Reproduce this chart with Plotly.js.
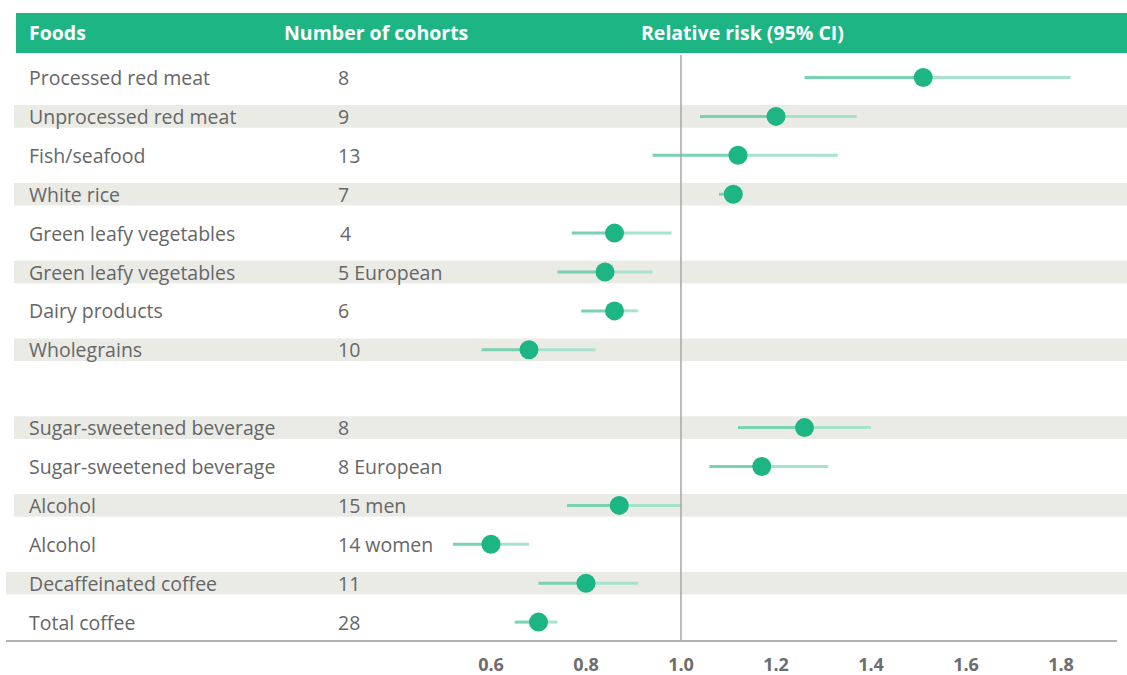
<!DOCTYPE html>
<html><head><meta charset="utf-8">
<script src="https://cdn.plot.ly/plotly-3.0.1.min.js"></script>
<style>html,body{margin:0;padding:0;background:#fff}#chart{width:1127px;height:675px}</style>
</head><body><div id="chart"></div>
<script>
// ---- data ----
const foods = ["Processed red meat","Unprocessed red meat","Fish/seafood","White rice","Green leafy vegetables","Green leafy vegetables","Dairy products","Wholegrains","Sugar-sweetened beverage","Sugar-sweetened beverage","Alcohol","Alcohol","Decaffeinated coffee","Total coffee"];
const cohorts = ["8","9","13","7","4","5 European","6","10","8","8 European","15 men","14 women","11","28"];
const rr    = [1.51,1.20,1.12,1.11,0.86,0.84,0.86,0.68,1.26,1.17,0.87,0.60,0.80,0.70];
const ciLow = [1.26,1.04,0.94,1.08,0.77,0.74,0.79,0.58,1.12,1.06,0.76,0.52,0.70,0.65];
const ciHigh= [1.82,1.37,1.33,1.13,0.98,0.94,0.91,0.82,1.40,1.31,1.00,0.68,0.91,0.74];
const rowIndex = [0,1,2,3,4,5,6,7,9,10,11,12,13,14];
const tickVals = [0.6,0.8,1.0,1.2,1.4,1.6,1.8];
const tickText = ["0.6","0.8","1.0","1.2","1.4","1.6","1.8"];

const W = 1127, H = 675, MB = 34, PH = H - MB;
const green = "#1db584", textGray = "#666666", band = "#ebebe6";
const FONT = "Open Sans, Noto Sans, sans-serif";

// left and right halves of CI lines
const lx=[], ly=[], rx=[], ry=[];
rr.forEach((v,i)=>{
  lx.push(ciLow[i], v, null); ly.push(rowIndex[i], rowIndex[i], null);
  rx.push(v, ciHigh[i], null); ry.push(rowIndex[i], rowIndex[i], null);
});

const traces = [
  {x:lx, y:ly, mode:"lines", line:{color:"#79d2b0", width:3}, hoverinfo:"skip", showlegend:false},
  {x:rx, y:ry, mode:"lines", line:{color:"#a7e2cc", width:3}, hoverinfo:"skip", showlegend:false},
  {x:rr, y:rowIndex, mode:"markers", marker:{color:green, size:19}, showlegend:false,
   customdata:foods, hovertemplate:"%{customdata}: %{x}<extra></extra>"}
];

const shapes = [];
const annotations = [];
// alternating bands
rowIndex.forEach((r,i)=>{
  if (r % 2 === 1) {
    shapes.push({type:"rect", layer:"below", xref:"paper", yref:"y",
      x0: (r===13? 6: 14)/W, x1:1, y0:r-0.29, y1:r+0.29, fillcolor:band, line:{width:0}});
  }
  annotations.push({xref:"paper", yref:"y", x:27/W, y:r, xanchor:"left", yanchor:"middle",
    text:foods[i], showarrow:false, font:{family:FONT, size:19.5, color:textGray}});
  annotations.push({xref:"paper", yref:"y", x:(cohorts[i]==="4"?338:336)/W, y:r, xanchor:"left", yanchor:"middle",
    text:cohorts[i], showarrow:false, font:{family:FONT, size:19.5, color:textGray}});
});
// header bar
shapes.push({type:"rect", layer:"below", xref:"paper", yref:"paper", x0:16/W, x1:1,
  y0:1-53/PH, y1:1-13/PH, fillcolor:green, line:{width:0}});
[["Foods",27],["Number of cohorts",282],["Relative risk (95% CI)",639]].forEach(h=>{
  annotations.push({xref:"paper", yref:"paper", x:h[1]/W, y:1-33/PH, xanchor:"left", yanchor:"middle",
    text:"<b>"+h[0]+"</b>", showarrow:false, font:{family:FONT, size:19.5, color:"#ffffff"}});
});
// reference line at RR = 1
shapes.push({type:"line", xref:"x", yref:"paper", x0:1, x1:1, y0:0, y1:1-55/PH,
  line:{color:"#a6a6a6", width:1.5}});
// bottom axis line
shapes.push({type:"line", xref:"paper", yref:"paper", x0:6/W, x1:1117/W, y0:0, y1:0,
  line:{color:"#b3b3b3", width:2}});

const pxPerUnit = 475, x1px = 681;
const slope = 38.9, off = 77.5;
const layout = {
  width:W, height:H, margin:{l:0, r:0, t:0, b:MB},
  paper_bgcolor:"#fff", plot_bgcolor:"rgba(0,0,0,0)",
  xaxis:{range:[1 - x1px/pxPerUnit, 1 + (W-x1px)/pxPerUnit], tickvals:tickVals, ticktext:tickText,
    showgrid:false, zeroline:false, showline:false, ticks:"", ticklabelstandoff:11,
    tickfont:{family:FONT, size:18, color:"#6d6d6d", weight:"bold"}, fixedrange:true},
  yaxis:{range:[(PH-off)/slope, -off/slope], showgrid:false, zeroline:false, showline:false,
    showticklabels:false, ticks:"", fixedrange:true},
  shapes, annotations, showlegend:false,
  font:{family:FONT}
};
Plotly.newPlot("chart", traces, layout, {displayModeBar:false, staticPlot:true});
</script></body></html>
